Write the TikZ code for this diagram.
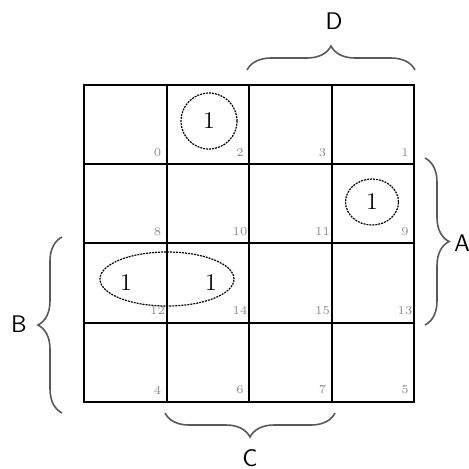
\documentclass[tikz,border=0pt]{standalone}
\usetikzlibrary{decorations.pathreplacing,shapes.geometric}

\begin{document}
\begin{tikzpicture}[x=0.5pt,y=-0.5pt,
    cell/.style={draw,line width=1pt,minimum width=41.25pt,minimum height=39.625pt,inner sep=0pt,outer sep=0pt},
    cellno/.style={text=black!45,font=\fontsize{6}{6}\selectfont,inner sep=0pt},
    loop/.style={draw,dash pattern=on 1pt off 0.5pt,line width=0.6pt,inner sep=0pt,font=\large},
    one/.style={font=\large,inner sep=0pt},
    varname/.style={font=\sffamily\large,inner sep=0pt},
    bracket/.style={decorate,decoration={brace,amplitude=12pt},draw=black!65,line width=0.8pt}]
    \useasboundingbox (0,0) rectangle (469,468);
    % the map, cells in Gray order
    \foreach \n [count=\i from 0] in {0,2,3,1,8,10,11,9,12,14,15,13,4,6,7,5} {
        \pgfmathtruncatemacro\col{mod(\i,4)}
        \pgfmathtruncatemacro\row{div(\i,4)}
        \node[cell] (m\n) at ({125.25+82.5*\col},{124.6+79.25*\row}) {};
        \node[cellno] (n\n) at ([xshift=-4.5pt,yshift=6pt]m\n.south east) {\n};
    }
    % groups
    \node[loop,circle,minimum size=28pt] (g2) at (209,121) {1};
    \node[loop,ellipse,minimum width=26.5pt,minimum height=23pt] (g9) at (372,202) {1};
    \node[loop,ellipse,minimum width=67pt,minimum height=27pt] (g12) at (167,279) {};
    \node[one] (o12) at (126,283) {1};
    \node[one] (o14) at (211,283) {1};
    % variable braces
    \coordinate (d1) at (247,70);  \coordinate (d2) at (415,70);
    \coordinate (a1) at (425,158); \coordinate (a2) at (425,325);
    \coordinate (b1) at (62,413);  \coordinate (b2) at (62,237);
    \coordinate (c1) at (335,413); \coordinate (c2) at (165,413);
    \draw[bracket] (d1) -- (d2);
    \draw[bracket] (a1) -- (a2);
    \draw[bracket] (b1) -- (b2);
    \draw[bracket] (c1) -- (c2);
    \node[varname] (lD) at (334,21) {D};
    \node[varname,anchor=west] (lA) at (454,243) {A};
    \node[varname] (lB) at (19,324) {B};
    \node[varname] (lC) at (250,458) {C};
\end{tikzpicture}
\end{document}
